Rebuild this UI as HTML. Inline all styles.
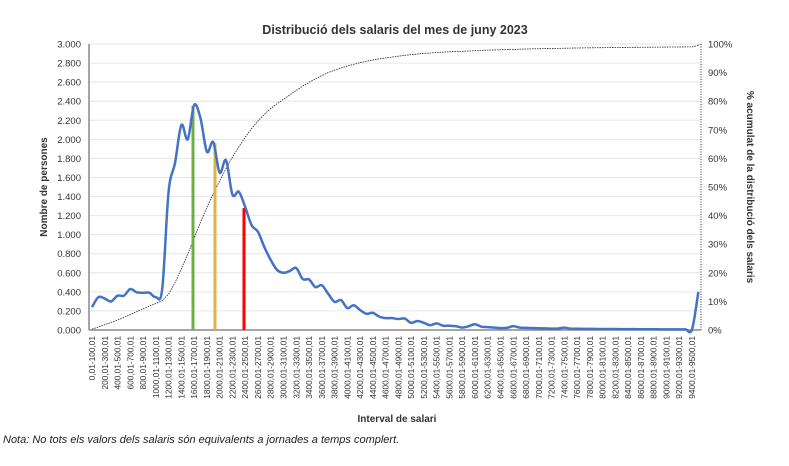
<!DOCTYPE html>
<html><head><meta charset="utf-8"><style>
body{margin:0;background:#fff;width:789px;height:461px;overflow:hidden;font-family:"Liberation Sans",Arial,sans-serif}
svg text{font-family:"Liberation Sans",Arial,sans-serif}
</style></head><body>
<svg id="s" width="789" height="461" xmlns="http://www.w3.org/2000/svg">
<text x="395" y="34" text-anchor="middle" font-size="12.5" font-weight="bold" fill="#333">Distribució dels salaris del mes de juny 2023</text>
<g id="grid"></g>
<text transform="translate(47,187) rotate(-90)" text-anchor="middle" font-size="10" font-weight="bold" fill="#333">Nombre de persones</text>
<text transform="translate(747,187) rotate(90)" text-anchor="middle" font-size="10" font-weight="bold" fill="#333">% acumulat de la distribució dels salaris</text>
<text x="397" y="422" text-anchor="middle" font-size="10" font-weight="bold" fill="#333">Interval de salari</text>
<text x="3" y="443" font-size="11" font-style="italic" fill="#222">Nota: No tots els valors dels salaris són equivalents a jornades a temps complert.</text>
</svg>
<script>
var s=document.getElementById('s'),g=document.getElementById('grid'),NS='http://www.w3.org/2000/svg';
function el(t,a,txt,p){var e=document.createElementNS(NS,t);for(var k in a)e.setAttribute(k,a[k]);if(txt!=null)e.textContent=txt;(p||s).appendChild(e);return e;}
var L=89,R=701,T=44,B=330;
function Y(v){return B-v*(B-T)/3000;}
function X(i){return 92+i*6.383;}
for(var v=0;v<=3000;v+=200){var y=Y(v);
 if(v>0)el('line',{x1:L,x2:R,y1:y,y2:y,stroke:'#e6e6e6','stroke-width':1},null,g);
 el('text',{x:81,y:y+3.5,'text-anchor':'end','font-size':9.5,fill:'#333'},(v/1000).toFixed(3),g);}
for(var p=0;p<=100;p+=10){var y=B-p*(B-T)/100;el('text',{x:708,y:y+3.5,'font-size':9.5,fill:'#333'},p+'%',g);}
el('line',{x1:L,x2:L,y1:T,y2:B,stroke:'#888','stroke-width':1.5});
el('line',{x1:R,x2:R,y1:T,y2:B,stroke:'#333','stroke-width':1,'stroke-dasharray':'1,1.5'});
el('line',{x1:L,x2:R,y1:B,y2:B,stroke:'#888','stroke-width':1.5});
var d=[240,345,330,300,360,360,430,395,390,390,345,430,1450,1750,2150,2000,2360,2220,1870,1970,1650,1780,1420,1450,1290,1100,1030,870,735,630,600,620,650,535,530,450,470,380,295,315,230,260,210,170,180,140,125,125,115,120,75,95,75,50,70,45,45,40,25,40,60,35,30,25,20,22,40,25,22,20,18,17,15,15,25,14,13,12,12,11,10,10,10,9,9,9,8,8,8,7,7,7,6,6,5,400];
var pts=d.map(function(v,i){return [X(i),Y(v)];});
function smooth(P){var s='M'+P[0][0]+','+P[0][1];for(var i=0;i<P.length-1;i++){var p0=P[Math.max(i-1,0)],p1=P[i],p2=P[i+1],p3=P[Math.min(i+2,P.length-1)];
 s+=' C'+(p1[0]+(p2[0]-p0[0])/6)+','+(p1[1]+(p2[1]-p0[1])/6)+' '+(p2[0]-(p3[0]-p1[0])/6)+','+(p2[1]-(p3[1]-p1[1])/6)+' '+p2[0]+','+p2[1];}return s;}
var tot=d.reduce(function(a,b){return a+b;},0),c=0,cp=[];
d.forEach(function(v,i){cp.push([X(i),B-(c+v/2)/tot*(B-T)]);c+=v;});cp.push([R-2,T]);
el('path',{d:'M'+cp.map(function(p){return p[0]+','+p[1];}).join(' L'),fill:'none',stroke:'#222','stroke-width':0.8,'stroke-dasharray':'1.5,1'});
el('line',{x1:193,x2:193,y1:B,y2:106,stroke:'#70ad47','stroke-width':3});
el('line',{x1:215,x2:215,y1:B,y2:143,stroke:'#dcb54a','stroke-width':3});
el('line',{x1:244,x2:244,y1:B,y2:208,stroke:'#ff0000','stroke-width':3});
el('path',{d:smooth(pts),fill:'none',stroke:'#4472c4','stroke-width':2.5,'stroke-linejoin':'round'});
function f(n){return n.toString();}
for(var k=0;k<48;k++){var a=k*200,x=92+k*12.766+3;
 el('text',{transform:'translate('+x+',336) rotate(-90)','text-anchor':'end','font-size':8.3,fill:'#333'},(a===0?'0':f(a))+',01-'+f(a+100)+',01');}
</script>
</body></html>
